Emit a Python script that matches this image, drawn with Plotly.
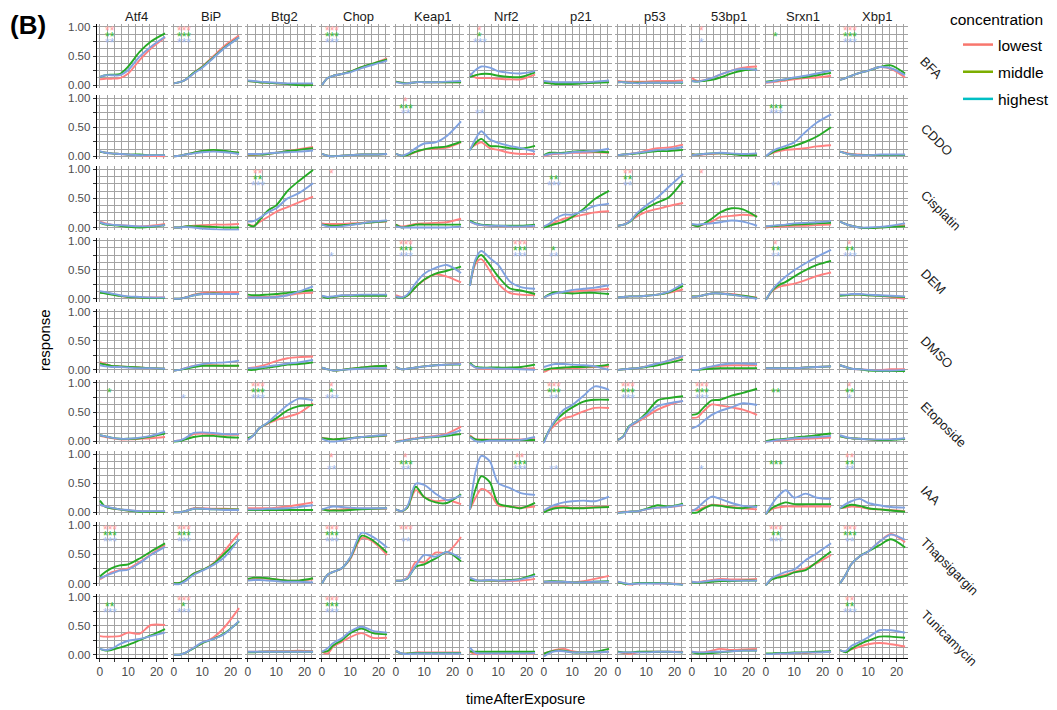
import plotly.graph_objects as go

# ---------------- data ----------------
T = [0, 2, 4, 7, 10, 14, 18, 23]
GENES = ["Atf4", "BiP", "Btg2", "Chop", "Keap1", "Nrf2", "p21", "p53", "53bp1", "Srxn1", "Xbp1"]
COMPOUNDS = ["BFA", "CDDO", "Cisplatin", "DEM", "DMSO", "Etoposide", "IAA", "Thapsigargin", "Tunicamycin"]
CONC = ["lowest", "middle", "highest"]

# each gene: (lowest, middle, highest) response at T
BFA = {
    "Atf4": ([0.1, 0.11, 0.11, 0.12, 0.2, 0.43, 0.63, 0.82], [0.14, 0.17, 0.18, 0.19, 0.32, 0.57, 0.75, 0.89], [0.14, 0.17, 0.17, 0.17, 0.26, 0.49, 0.66, 0.83]),
    "BiP": ([0.03, 0.05, 0.09, 0.21, 0.32, 0.5, 0.68, 0.85], [0.03, 0.05, 0.09, 0.21, 0.31, 0.48, 0.65, 0.82], [0.03, 0.05, 0.09, 0.2, 0.3, 0.47, 0.64, 0.82]),
    "Btg2": ([0.07, 0.06, 0.05, 0.04, 0.03, 0.02, 0.01, 0.01], [0.07, 0.06, 0.05, 0.04, 0.03, 0.02, 0.0, 0.0], [0.08, 0.07, 0.06, 0.05, 0.04, 0.03, 0.03, 0.03]),
    "Chop": ([0.0, 0.12, 0.16, 0.19, 0.23, 0.31, 0.37, 0.46], [0.0, 0.12, 0.16, 0.19, 0.23, 0.31, 0.37, 0.44], [0.0, 0.12, 0.16, 0.19, 0.22, 0.29, 0.35, 0.42]),
    "Keap1": ([0.06, 0.04, 0.03, 0.05, 0.05, 0.05, 0.05, 0.05], [0.06, 0.04, 0.03, 0.05, 0.05, 0.05, 0.05, 0.05], [0.05, 0.03, 0.03, 0.05, 0.05, 0.05, 0.06, 0.07]),
    "Nrf2": ([0.2, 0.13, 0.12, 0.12, 0.11, 0.1, 0.1, 0.18], [0.14, 0.17, 0.19, 0.19, 0.16, 0.14, 0.14, 0.22], [0.16, 0.26, 0.32, 0.3, 0.24, 0.21, 0.2, 0.24]),
    "p21": ([0.06, 0.05, 0.04, 0.04, 0.04, 0.05, 0.05, 0.06], [0.04, 0.03, 0.02, 0.02, 0.02, 0.03, 0.04, 0.05], [0.07, 0.06, 0.05, 0.05, 0.05, 0.05, 0.06, 0.08]),
    "p53": ([0.07, 0.06, 0.06, 0.06, 0.06, 0.07, 0.07, 0.08], [0.05, 0.05, 0.04, 0.04, 0.04, 0.04, 0.04, 0.04], [0.05, 0.05, 0.04, 0.03, 0.04, 0.04, 0.04, 0.05]),
    "53bp1": ([0.12, 0.07, 0.08, 0.12, 0.18, 0.25, 0.3, 0.32], [0.07, 0.06, 0.07, 0.09, 0.13, 0.2, 0.25, 0.27], [0.07, 0.06, 0.08, 0.12, 0.18, 0.25, 0.28, 0.26]),
    "Srxn1": ([0.04, 0.05, 0.06, 0.08, 0.1, 0.12, 0.13, 0.16], [0.06, 0.07, 0.08, 0.1, 0.12, 0.14, 0.17, 0.21], [0.05, 0.06, 0.08, 0.1, 0.13, 0.16, 0.2, 0.25]),
    "Xbp1": ([0.09, 0.12, 0.16, 0.21, 0.25, 0.31, 0.28, 0.13], [0.09, 0.12, 0.16, 0.21, 0.25, 0.31, 0.34, 0.2], [0.09, 0.12, 0.16, 0.21, 0.25, 0.31, 0.29, 0.17]),
}
CDDO = {
    "Atf4": ([0.08, 0.06, 0.05, 0.04, 0.03, 0.02, 0.01, 0.0], [0.08, 0.06, 0.05, 0.04, 0.03, 0.03, 0.02, 0.02], [0.09, 0.06, 0.05, 0.04, 0.03, 0.02, 0.02, 0.02]),
    "BiP": ([0.0, 0.01, 0.03, 0.06, 0.09, 0.1, 0.08, 0.06], [0.0, 0.01, 0.03, 0.06, 0.09, 0.11, 0.09, 0.06], [0.0, 0.01, 0.03, 0.05, 0.07, 0.08, 0.07, 0.04]),
    "Btg2": ([0.02, 0.02, 0.03, 0.04, 0.06, 0.09, 0.12, 0.16], [0.03, 0.03, 0.03, 0.04, 0.06, 0.09, 0.11, 0.14], [0.04, 0.04, 0.04, 0.05, 0.06, 0.07, 0.08, 0.1]),
    "Chop": ([0.04, 0.01, 0.0, 0.01, 0.02, 0.03, 0.03, 0.04], [0.04, 0.01, 0.0, 0.01, 0.02, 0.03, 0.03, 0.04], [0.04, 0.01, 0.0, 0.01, 0.02, 0.03, 0.03, 0.04]),
    "Keap1": ([0.04, 0.01, 0.02, 0.07, 0.12, 0.13, 0.15, 0.24], [0.04, 0.01, 0.02, 0.08, 0.12, 0.15, 0.17, 0.25], [0.04, 0.01, 0.04, 0.14, 0.22, 0.24, 0.35, 0.6]),
    "Nrf2": ([0.14, 0.2, 0.24, 0.14, 0.11, 0.06, 0.04, 0.04], [0.11, 0.23, 0.3, 0.18, 0.17, 0.14, 0.13, 0.18], [0.1, 0.3, 0.43, 0.29, 0.23, 0.18, 0.14, 0.08]),
    "p21": ([0.0, 0.03, 0.04, 0.05, 0.06, 0.06, 0.07, 0.06], [0.02, 0.06, 0.06, 0.06, 0.08, 0.09, 0.08, 0.07], [0.01, 0.04, 0.05, 0.05, 0.07, 0.08, 0.09, 0.13]),
    "p53": ([0.02, 0.03, 0.04, 0.06, 0.1, 0.14, 0.15, 0.2], [0.02, 0.03, 0.04, 0.05, 0.07, 0.09, 0.09, 0.11], [0.02, 0.03, 0.04, 0.06, 0.08, 0.11, 0.12, 0.16]),
    "53bp1": ([0.04, 0.02, 0.03, 0.04, 0.05, 0.04, 0.03, 0.02], [0.03, 0.03, 0.04, 0.05, 0.05, 0.04, 0.02, 0.02], [0.02, 0.03, 0.04, 0.05, 0.06, 0.05, 0.04, 0.05]),
    "Srxn1": ([0.0, 0.05, 0.08, 0.11, 0.12, 0.14, 0.17, 0.19], [0.0, 0.06, 0.1, 0.14, 0.18, 0.25, 0.34, 0.5], [0.0, 0.08, 0.13, 0.18, 0.24, 0.42, 0.58, 0.72]),
    "Xbp1": ([0.08, 0.06, 0.04, 0.03, 0.02, 0.02, 0.02, 0.02], [0.08, 0.05, 0.03, 0.02, 0.02, 0.02, 0.02, 0.02], [0.08, 0.05, 0.03, 0.02, 0.02, 0.03, 0.03, 0.03]),
}
CISPLATIN = {
    "Atf4": ([0.1, 0.07, 0.05, 0.04, 0.03, 0.02, 0.03, 0.06], [0.08, 0.05, 0.04, 0.03, 0.01, 0.0, 0.01, 0.04], [0.09, 0.06, 0.05, 0.04, 0.03, 0.02, 0.02, 0.04]),
    "BiP": ([0.0, 0.0, 0.02, 0.03, 0.04, 0.05, 0.05, 0.06], [0.0, 0.0, 0.02, 0.02, 0.02, 0.01, 0.0, 0.0], [0.0, 0.0, 0.01, 0.0, -0.02, -0.03, -0.04, -0.04]),
    "Btg2": ([0.06, 0.03, 0.09, 0.18, 0.27, 0.35, 0.43, 0.53], [0.05, 0.02, 0.12, 0.29, 0.38, 0.63, 0.8, 0.99], [0.1, 0.11, 0.16, 0.26, 0.33, 0.5, 0.59, 0.76]),
    "Chop": ([0.07, 0.06, 0.06, 0.06, 0.07, 0.08, 0.09, 0.1], [0.05, 0.04, 0.03, 0.04, 0.05, 0.07, 0.09, 0.11], [0.05, 0.02, 0.01, 0.02, 0.04, 0.07, 0.1, 0.12]),
    "Keap1": ([0.05, 0.02, 0.03, 0.06, 0.07, 0.08, 0.09, 0.15], [0.05, 0.0, 0.02, 0.05, 0.05, 0.05, 0.05, 0.05], [0.02, 0.0, 0.0, 0.0, 0.0, 0.0, 0.0, 0.02]),
    "Nrf2": ([0.1, 0.06, 0.04, 0.03, 0.02, 0.02, 0.02, 0.02], [0.12, 0.07, 0.05, 0.04, 0.03, 0.03, 0.03, 0.05], [0.1, 0.06, 0.04, 0.03, 0.03, 0.02, 0.02, 0.03]),
    "p21": ([0.02, 0.05, 0.09, 0.15, 0.18, 0.22, 0.26, 0.28], [0.0, 0.03, 0.06, 0.1, 0.18, 0.32, 0.49, 0.63], [0.02, 0.07, 0.15, 0.22, 0.22, 0.29, 0.37, 0.41]),
    "p53": ([0.03, 0.05, 0.1, 0.2, 0.27, 0.32, 0.37, 0.42], [0.03, 0.05, 0.09, 0.24, 0.33, 0.43, 0.52, 0.8], [0.03, 0.05, 0.1, 0.26, 0.38, 0.52, 0.7, 0.92]),
    "53bp1": ([0.05, 0.02, 0.05, 0.1, 0.18, 0.2, 0.22, 0.2], [0.05, 0.02, 0.06, 0.15, 0.26, 0.33, 0.31, 0.18], [0.06, 0.05, 0.06, 0.07, 0.09, 0.12, 0.1, 0.03]),
    "Srxn1": ([0.0, 0.01, 0.01, 0.02, 0.03, 0.03, 0.04, 0.05], [0.02, 0.02, 0.03, 0.04, 0.05, 0.06, 0.07, 0.08], [0.02, 0.03, 0.04, 0.05, 0.07, 0.08, 0.09, 0.11]),
    "Xbp1": ([0.1, 0.06, 0.03, 0.0, -0.01, 0.0, 0.02, 0.04], [0.1, 0.06, 0.03, 0.0, -0.01, 0.0, 0.01, 0.02], [0.1, 0.06, 0.03, 0.0, 0.0, 0.01, 0.03, 0.07]),
}
DEM = {
    "Atf4": ([0.12, 0.1, 0.08, 0.05, 0.03, 0.02, 0.02, 0.02], [0.1, 0.09, 0.07, 0.05, 0.03, 0.02, 0.01, 0.01], [0.13, 0.11, 0.09, 0.06, 0.04, 0.03, 0.02, 0.02]),
    "BiP": ([0.0, 0.0, 0.02, 0.07, 0.1, 0.11, 0.11, 0.11], [0.0, 0.0, 0.02, 0.06, 0.08, 0.09, 0.08, 0.08], [0.0, 0.0, 0.02, 0.06, 0.08, 0.08, 0.08, 0.08]),
    "Btg2": ([0.03, 0.03, 0.03, 0.03, 0.04, 0.06, 0.09, 0.1], [0.07, 0.06, 0.06, 0.07, 0.08, 0.1, 0.12, 0.15], [0.02, 0.02, 0.02, 0.02, 0.03, 0.06, 0.12, 0.21]),
    "Chop": ([0.05, 0.02, 0.03, 0.05, 0.06, 0.06, 0.06, 0.06], [0.04, 0.01, 0.03, 0.05, 0.05, 0.05, 0.05, 0.05], [0.05, 0.03, 0.04, 0.06, 0.06, 0.07, 0.07, 0.07]),
    "Keap1": ([0.06, 0.03, 0.05, 0.2, 0.32, 0.42, 0.38, 0.28], [0.03, 0.01, 0.05, 0.2, 0.33, 0.43, 0.48, 0.55], [0.04, 0.02, 0.07, 0.27, 0.43, 0.53, 0.58, 0.44]),
    "Nrf2": ([0.22, 0.6, 0.68, 0.48, 0.26, 0.1, 0.07, 0.06], [0.22, 0.65, 0.75, 0.58, 0.38, 0.18, 0.14, 0.08], [0.22, 0.68, 0.82, 0.7, 0.58, 0.3, 0.2, 0.17]),
    "p21": ([0.02, 0.07, 0.1, 0.11, 0.12, 0.14, 0.15, 0.17], [0.02, 0.08, 0.11, 0.1, 0.09, 0.1, 0.1, 0.08], [0.02, 0.06, 0.09, 0.12, 0.15, 0.17, 0.19, 0.23]),
    "p53": ([0.02, 0.03, 0.04, 0.04, 0.05, 0.07, 0.1, 0.16], [0.02, 0.03, 0.04, 0.04, 0.05, 0.07, 0.11, 0.22], [0.02, 0.03, 0.04, 0.04, 0.05, 0.07, 0.12, 0.26]),
    "53bp1": ([0.04, 0.04, 0.06, 0.09, 0.09, 0.08, 0.05, 0.02], [0.04, 0.04, 0.06, 0.09, 0.09, 0.07, 0.05, 0.01], [0.03, 0.04, 0.06, 0.09, 0.09, 0.07, 0.04, 0.0]),
    "Srxn1": ([-0.02, 0.12, 0.19, 0.23, 0.26, 0.32, 0.39, 0.45], [-0.02, 0.13, 0.22, 0.29, 0.38, 0.49, 0.58, 0.65], [-0.02, 0.14, 0.25, 0.38, 0.49, 0.61, 0.72, 0.84]),
    "Xbp1": ([0.07, 0.06, 0.07, 0.07, 0.06, 0.05, 0.03, 0.0], [0.05, 0.06, 0.07, 0.07, 0.06, 0.05, 0.04, 0.03], [0.07, 0.07, 0.08, 0.08, 0.07, 0.06, 0.05, 0.04]),
}
DMSO = {
    "Atf4": ([0.14, 0.1, 0.07, 0.06, 0.05, 0.04, 0.03, 0.02], [0.11, 0.09, 0.07, 0.06, 0.05, 0.04, 0.03, 0.02], [0.08, 0.06, 0.05, 0.05, 0.04, 0.03, 0.03, 0.02]),
    "BiP": ([-0.01, 0.0, 0.03, 0.07, 0.08, 0.08, 0.07, 0.07], [-0.01, 0.0, 0.02, 0.05, 0.07, 0.07, 0.07, 0.07], [-0.01, 0.0, 0.03, 0.07, 0.1, 0.12, 0.13, 0.16]),
    "Btg2": ([0.03, 0.04, 0.06, 0.1, 0.15, 0.2, 0.22, 0.23], [0.0, 0.0, 0.02, 0.04, 0.06, 0.09, 0.1, 0.13], [0.03, 0.03, 0.04, 0.06, 0.08, 0.11, 0.13, 0.17]),
    "Chop": ([0.04, 0.01, -0.01, 0.0, 0.02, 0.04, 0.06, 0.06], [0.04, 0.01, -0.01, 0.0, 0.02, 0.04, 0.06, 0.07], [0.04, 0.01, -0.01, 0.0, 0.01, 0.02, 0.03, 0.03]),
    "Keap1": ([0.05, 0.01, 0.02, 0.04, 0.06, 0.08, 0.09, 0.11], [0.05, 0.01, 0.02, 0.04, 0.06, 0.08, 0.09, 0.09], [0.05, 0.01, 0.02, 0.04, 0.06, 0.08, 0.09, 0.1]),
    "Nrf2": ([0.1, 0.04, 0.02, 0.02, 0.02, 0.02, 0.02, 0.03], [0.12, 0.05, 0.04, 0.04, 0.04, 0.04, 0.05, 0.09], [0.1, 0.04, 0.03, 0.03, 0.02, 0.02, 0.01, 0.0]),
    "p21": ([-0.04, 0.01, 0.02, 0.03, 0.03, 0.04, 0.05, 0.06], [0.0, 0.02, 0.03, 0.04, 0.05, 0.05, 0.06, 0.09], [0.05, 0.08, 0.1, 0.1, 0.09, 0.08, 0.06, 0.0]),
    "p53": ([0.0, 0.01, 0.02, 0.03, 0.06, 0.1, 0.16, 0.23], [0.0, 0.01, 0.02, 0.03, 0.05, 0.08, 0.12, 0.18], [0.0, 0.01, 0.02, 0.03, 0.06, 0.11, 0.16, 0.24]),
    "53bp1": ([0.0, 0.0, 0.02, 0.05, 0.07, 0.08, 0.08, 0.08], [0.0, 0.0, 0.01, 0.02, 0.03, 0.03, 0.03, 0.03], [0.0, 0.0, 0.03, 0.06, 0.09, 0.11, 0.11, 0.1]),
    "Srxn1": ([0.03, 0.03, 0.03, 0.03, 0.03, 0.04, 0.05, 0.06], [0.03, 0.03, 0.03, 0.03, 0.03, 0.04, 0.05, 0.06], [0.03, 0.03, 0.03, 0.03, 0.03, 0.04, 0.05, 0.06]),
    "Xbp1": ([0.08, 0.05, 0.02, 0.01, 0.0, 0.0, 0.01, 0.01], [0.08, 0.05, 0.02, 0.01, -0.01, -0.02, -0.02, -0.02], [0.08, 0.05, 0.02, 0.01, 0.0, -0.01, -0.01, 0.0]),
}
ETOPOSIDE = {
    "Atf4": ([0.09, 0.07, 0.05, 0.03, 0.03, 0.04, 0.05, 0.07], [0.1, 0.08, 0.06, 0.04, 0.04, 0.05, 0.08, 0.13], [0.1, 0.08, 0.06, 0.04, 0.04, 0.06, 0.09, 0.16]),
    "BiP": ([0.0, 0.01, 0.04, 0.12, 0.13, 0.12, 0.11, 0.11], [-0.01, 0.0, 0.03, 0.07, 0.09, 0.09, 0.07, 0.06], [0.0, 0.01, 0.05, 0.14, 0.15, 0.14, 0.12, 0.12]),
    "Btg2": ([0.03, 0.1, 0.22, 0.3, 0.36, 0.42, 0.48, 0.65], [0.05, 0.1, 0.22, 0.31, 0.39, 0.53, 0.6, 0.62], [0.02, 0.1, 0.22, 0.32, 0.45, 0.62, 0.73, 0.7]),
    "Chop": ([0.06, 0.04, 0.03, 0.04, 0.05, 0.07, 0.08, 0.09], [0.05, 0.04, 0.03, 0.04, 0.05, 0.07, 0.08, 0.1], [0.04, 0.0, -0.01, 0.01, 0.04, 0.07, 0.09, 0.11]),
    "Keap1": ([0.0, 0.01, 0.03, 0.05, 0.07, 0.09, 0.13, 0.25], [-0.01, 0.0, 0.02, 0.04, 0.06, 0.07, 0.09, 0.12], [-0.01, 0.0, 0.02, 0.04, 0.06, 0.08, 0.11, 0.19]),
    "Nrf2": ([0.1, 0.03, 0.03, 0.03, 0.03, 0.03, 0.03, 0.04], [0.08, 0.03, 0.02, 0.02, 0.02, 0.02, 0.02, 0.02], [0.07, 0.0, -0.01, 0.01, 0.01, 0.01, 0.02, 0.07]),
    "p21": ([0.0, 0.18, 0.28, 0.39, 0.43, 0.51, 0.57, 0.57], [0.0, 0.2, 0.34, 0.48, 0.58, 0.68, 0.71, 0.71], [-0.03, 0.2, 0.36, 0.54, 0.62, 0.78, 0.94, 0.88]),
    "p53": ([0.02, 0.08, 0.24, 0.33, 0.42, 0.54, 0.62, 0.69], [0.02, 0.09, 0.26, 0.35, 0.48, 0.7, 0.74, 0.77], [0.02, 0.08, 0.25, 0.35, 0.45, 0.6, 0.65, 0.69]),
    "53bp1": ([0.4, 0.41, 0.51, 0.63, 0.61, 0.58, 0.54, 0.45], [0.45, 0.47, 0.57, 0.7, 0.71, 0.78, 0.83, 0.9], [0.22, 0.26, 0.34, 0.45, 0.52, 0.58, 0.65, 0.62]),
    "Srxn1": ([-0.01, 0.0, 0.01, 0.02, 0.03, 0.04, 0.05, 0.06], [0.0, 0.02, 0.03, 0.04, 0.06, 0.08, 0.1, 0.13], [-0.01, 0.0, 0.02, 0.03, 0.05, 0.06, 0.07, 0.09]),
    "Xbp1": ([0.09, 0.06, 0.05, 0.04, 0.03, 0.02, 0.03, 0.04], [0.08, 0.06, 0.05, 0.04, 0.03, 0.02, 0.02, 0.04], [0.1, 0.07, 0.05, 0.04, 0.03, 0.03, 0.03, 0.05]),
}
IAA = {
    "Atf4": ([0.13, 0.1, 0.07, 0.05, 0.03, 0.02, 0.01, 0.01], [0.2, 0.09, 0.07, 0.05, 0.03, 0.01, 0.01, 0.01], [0.13, 0.1, 0.08, 0.05, 0.04, 0.02, 0.02, 0.02]),
    "BiP": ([0.0, 0.0, 0.02, 0.07, 0.07, 0.06, 0.06, 0.05], [0.0, 0.0, 0.02, 0.06, 0.06, 0.05, 0.05, 0.05], [0.0, 0.0, 0.02, 0.06, 0.06, 0.05, 0.04, 0.04]),
    "Btg2": ([0.07, 0.07, 0.07, 0.07, 0.08, 0.1, 0.13, 0.17], [0.04, 0.04, 0.04, 0.04, 0.04, 0.04, 0.04, 0.04], [0.05, 0.05, 0.05, 0.06, 0.06, 0.07, 0.09, 0.12]),
    "Chop": ([0.05, 0.04, 0.04, 0.05, 0.06, 0.06, 0.06, 0.06], [0.05, 0.03, 0.03, 0.03, 0.04, 0.05, 0.06, 0.07], [0.05, 0.08, 0.1, 0.09, 0.08, 0.07, 0.07, 0.07]),
    "Keap1": ([0.05, 0.02, 0.08, 0.38, 0.26, 0.19, 0.21, 0.14], [0.05, 0.02, 0.08, 0.44, 0.26, 0.17, 0.16, 0.31], [0.05, 0.02, 0.1, 0.49, 0.47, 0.32, 0.21, 0.29]),
    "Nrf2": ([0.05, 0.25, 0.4, 0.33, 0.12, 0.1, 0.08, 0.1], [0.05, 0.4, 0.62, 0.52, 0.15, 0.1, 0.07, 0.16], [0.05, 0.7, 0.97, 0.88, 0.5, 0.42, 0.33, 0.3]),
    "p21": ([0.02, 0.06, 0.09, 0.1, 0.08, 0.08, 0.09, 0.1], [0.0, 0.04, 0.07, 0.08, 0.07, 0.07, 0.08, 0.09], [0.03, 0.09, 0.13, 0.17, 0.19, 0.2, 0.19, 0.27]),
    "p53": ([0.0, 0.01, 0.01, 0.02, 0.05, 0.08, 0.09, 0.12], [-0.01, 0.0, 0.01, 0.02, 0.06, 0.12, 0.1, 0.15], [-0.01, 0.0, 0.01, 0.02, 0.05, 0.08, 0.09, 0.13]),
    "53bp1": ([0.04, 0.04, 0.08, 0.13, 0.12, 0.09, 0.07, 0.05], [-0.01, 0.0, 0.06, 0.12, 0.11, 0.08, 0.07, 0.11], [0.02, 0.08, 0.17, 0.27, 0.23, 0.16, 0.11, 0.09]),
    "Srxn1": ([-0.03, 0.05, 0.08, 0.1, 0.1, 0.1, 0.1, 0.1], [-0.03, 0.07, 0.12, 0.17, 0.14, 0.14, 0.14, 0.14], [-0.03, 0.13, 0.26, 0.38, 0.25, 0.32, 0.25, 0.23]),
    "Xbp1": ([0.07, 0.08, 0.1, 0.09, 0.06, 0.05, 0.04, 0.02], [0.07, 0.1, 0.13, 0.11, 0.07, 0.05, 0.03, 0.01], [0.07, 0.14, 0.19, 0.23, 0.16, 0.12, 0.09, 0.08]),
}
THAPSIGARGIN = {
    "Atf4": ([0.07, 0.13, 0.19, 0.23, 0.26, 0.37, 0.5, 0.66], [0.12, 0.2, 0.26, 0.31, 0.33, 0.43, 0.55, 0.69], [0.09, 0.13, 0.17, 0.22, 0.24, 0.35, 0.49, 0.63]),
    "BiP": ([0.01, 0.01, 0.06, 0.17, 0.23, 0.35, 0.57, 0.87], [0.01, 0.01, 0.06, 0.17, 0.23, 0.34, 0.52, 0.75], [-0.01, -0.01, 0.04, 0.15, 0.22, 0.32, 0.46, 0.76]),
    "Btg2": ([0.07, 0.08, 0.09, 0.08, 0.07, 0.05, 0.05, 0.07], [0.08, 0.1, 0.1, 0.09, 0.07, 0.05, 0.05, 0.09], [0.05, 0.06, 0.06, 0.05, 0.04, 0.03, 0.03, 0.02]),
    "Chop": ([0.0, 0.15, 0.2, 0.26, 0.42, 0.78, 0.72, 0.49], [0.0, 0.15, 0.2, 0.26, 0.44, 0.82, 0.74, 0.53], [0.0, 0.15, 0.2, 0.26, 0.45, 0.87, 0.8, 0.62]),
    "Keap1": ([0.05, 0.05, 0.1, 0.37, 0.36, 0.53, 0.53, 0.8], [0.05, 0.05, 0.08, 0.29, 0.33, 0.43, 0.54, 0.38], [0.05, 0.05, 0.09, 0.31, 0.49, 0.46, 0.54, 0.43]),
    "Nrf2": ([0.08, 0.05, 0.05, 0.05, 0.04, 0.04, 0.05, 0.08], [0.06, 0.05, 0.05, 0.05, 0.05, 0.06, 0.08, 0.16], [0.1, 0.06, 0.05, 0.06, 0.05, 0.05, 0.07, 0.13]),
    "p21": ([0.03, 0.03, 0.03, 0.03, 0.02, 0.04, 0.08, 0.13], [0.03, 0.04, 0.04, 0.03, 0.02, 0.02, 0.03, 0.04], [0.03, 0.03, 0.03, 0.03, 0.02, 0.02, 0.03, 0.03]),
    "p53": ([0.03, 0.0, -0.02, 0.0, 0.01, 0.0, 0.0, -0.01], [0.02, 0.0, -0.01, 0.01, 0.01, 0.01, 0.0, -0.02], [0.03, 0.01, -0.01, 0.0, 0.0, 0.0, 0.0, -0.02]),
    "53bp1": ([0.03, 0.02, 0.04, 0.06, 0.08, 0.07, 0.07, 0.08], [0.02, 0.01, 0.02, 0.03, 0.04, 0.04, 0.05, 0.05], [0.03, 0.02, 0.03, 0.05, 0.06, 0.05, 0.05, 0.05]),
    "Srxn1": ([-0.03, 0.07, 0.11, 0.15, 0.2, 0.26, 0.35, 0.49], [-0.03, 0.07, 0.1, 0.13, 0.19, 0.23, 0.37, 0.55], [-0.03, 0.09, 0.14, 0.2, 0.24, 0.4, 0.52, 0.69]),
    "Xbp1": ([0.0, 0.15, 0.33, 0.47, 0.55, 0.72, 0.85, 0.71], [0.0, 0.15, 0.33, 0.47, 0.55, 0.66, 0.76, 0.62], [0.0, 0.15, 0.33, 0.47, 0.55, 0.72, 0.84, 0.75]),
}
TUNICAMYCIN = {
    "Atf4": ([0.32, 0.31, 0.31, 0.32, 0.38, 0.36, 0.51, 0.51], [0.1, 0.07, 0.08, 0.12, 0.17, 0.25, 0.33, 0.44], [0.1, 0.08, 0.1, 0.18, 0.24, 0.27, 0.32, 0.38]),
    "BiP": ([0.0, 0.0, 0.03, 0.12, 0.2, 0.3, 0.48, 0.8], [0.0, 0.0, 0.03, 0.11, 0.2, 0.27, 0.37, 0.57], [0.0, 0.0, 0.03, 0.12, 0.21, 0.27, 0.36, 0.58]),
    "Btg2": ([0.05, 0.05, 0.05, 0.06, 0.06, 0.06, 0.07, 0.06], [0.04, 0.04, 0.05, 0.05, 0.05, 0.05, 0.05, 0.05], [0.05, 0.05, 0.05, 0.05, 0.05, 0.05, 0.05, 0.05]),
    "Chop": ([0.05, 0.02, 0.14, 0.22, 0.3, 0.37, 0.29, 0.29], [0.05, 0.06, 0.16, 0.25, 0.37, 0.45, 0.37, 0.35], [0.05, 0.11, 0.2, 0.28, 0.4, 0.48, 0.41, 0.38]),
    "Keap1": ([0.06, 0.02, 0.02, 0.04, 0.04, 0.04, 0.04, 0.04], [0.06, 0.02, 0.02, 0.03, 0.03, 0.03, 0.03, 0.03], [0.07, 0.02, 0.01, 0.02, 0.02, 0.02, 0.02, 0.02]),
    "Nrf2": ([0.05, 0.01, 0.01, 0.01, 0.01, 0.01, 0.01, 0.02], [0.06, 0.05, 0.05, 0.05, 0.05, 0.05, 0.05, 0.05], [0.12, 0.03, 0.02, 0.02, 0.02, 0.02, 0.02, 0.03]),
    "p21": ([0.02, 0.05, 0.08, 0.1, 0.06, 0.04, 0.04, 0.05], [0.02, 0.05, 0.07, 0.07, 0.04, 0.04, 0.05, 0.1], [-0.03, 0.03, 0.06, 0.06, 0.04, 0.04, 0.04, 0.05]),
    "p53": ([0.05, 0.03, 0.01, 0.04, 0.05, 0.05, 0.05, 0.05], [0.05, 0.04, 0.04, 0.05, 0.05, 0.05, 0.05, 0.04], [0.04, 0.04, 0.04, 0.04, 0.04, 0.05, 0.05, 0.04]),
    "53bp1": ([0.05, 0.04, 0.04, 0.07, 0.1, 0.08, 0.09, 0.1], [0.04, 0.02, 0.02, 0.03, 0.04, 0.06, 0.07, 0.07], [0.05, 0.04, 0.04, 0.05, 0.05, 0.06, 0.07, 0.07]),
    "Srxn1": ([0.01, 0.01, 0.02, 0.02, 0.03, 0.03, 0.04, 0.05], [0.02, 0.02, 0.03, 0.03, 0.04, 0.04, 0.05, 0.06], [0.01, 0.01, 0.02, 0.02, 0.03, 0.04, 0.04, 0.05]),
    "Xbp1": ([0.08, 0.05, 0.09, 0.14, 0.18, 0.2, 0.18, 0.14], [0.08, 0.04, 0.1, 0.18, 0.24, 0.31, 0.31, 0.29], [0.08, 0.06, 0.15, 0.22, 0.3, 0.42, 0.42, 0.38]),
}

# significance stars (lowest, middle, highest) per gene; missing = none
STARS_BFA = {"Atf4": (2, 2, 2), "BiP": (3, 3, 3), "Chop": (3, 3, 3), "Nrf2": (1, 1, 3), "53bp1": (1, 0, 1), "Srxn1": (0, 1, 0), "Xbp1": (3, 3, 3)}
STARS_CDDO = {"Keap1": (1, 3, 2), "Nrf2": (0, 0, 2), "Srxn1": (0, 3, 3)}
STARS_CISPLATIN = {"Btg2": (2, 2, 3), "Chop": (1, 0, 0), "p21": (0, 2, 3), "p53": (2, 2, 2), "53bp1": (1, 0, 0), "Srxn1": (0, 0, 2)}
STARS_DEM = {"Chop": (0, 0, 1), "Keap1": (3, 3, 3), "Nrf2": (3, 3, 3), "p21": (0, 1, 2), "Srxn1": (1, 2, 2), "Xbp1": (1, 2, 3)}
STARS_DMSO = {}
STARS_ETOPOSIDE = {"Atf4": (0, 1, 0), "BiP": (0, 0, 1), "Btg2": (3, 3, 3), "Chop": (1, 1, 3), "p21": (3, 3, 2), "p53": (3, 3, 3), "53bp1": (3, 3, 3), "Srxn1": (0, 2, 0), "Xbp1": (1, 2, 1)}
STARS_IAA = {"Chop": (1, 0, 2), "Keap1": (1, 3, 2), "Nrf2": (2, 3, 3), "p21": (0, 0, 2), "53bp1": (0, 0, 1), "Srxn1": (0, 3, 0), "Xbp1": (2, 2, 2)}
STARS_THAPSIGARGIN = {"Atf4": (3, 3, 3), "BiP": (3, 3, 3), "Chop": (3, 3, 3), "Keap1": (3, 0, 2), "Srxn1": (3, 2, 3), "Xbp1": (3, 3, 2)}
STARS_TUNICAMYCIN = {"Atf4": (0, 2, 3), "BiP": (3, 1, 3), "Chop": (3, 3, 3), "Xbp1": (2, 2, 3)}

RESPONSE = {"BFA": BFA, "CDDO": CDDO, "Cisplatin": CISPLATIN, "DEM": DEM, "DMSO": DMSO,
            "Etoposide": ETOPOSIDE, "IAA": IAA, "Thapsigargin": THAPSIGARGIN, "Tunicamycin": TUNICAMYCIN}
STARS = {"BFA": STARS_BFA, "CDDO": STARS_CDDO, "Cisplatin": STARS_CISPLATIN, "DEM": STARS_DEM, "DMSO": STARS_DMSO,
         "Etoposide": STARS_ETOPOSIDE, "IAA": STARS_IAA, "Thapsigargin": STARS_THAPSIGARGIN, "Tunicamycin": STARS_TUNICAMYCIN}
STARS_ON_RIGHT = {("DEM", "Nrf2"), ("IAA", "Nrf2")}

# ---------------- style / geometry ----------------
LINE_COLORS = ["#FF8080", "#25AA25", "#80A2E0"]
STAR_COLORS = ["#FF9E9E", "#33BB33", "#9EB6EA"]
LEGEND_COLORS = ["#F8766D", "#7CAE00", "#00BFC4"]
GRID = "#A3A3A3"
FONT = "Liberation Sans, Arial, sans-serif"

PAGE_OFF = 8                      # default page margin around the plot div
W, H = 1057 - PAGE_OFF, 710 - PAGE_OFF
PLOT_L, PLOT_T, PW, PH = 96, 24, 813, 634          # plot area in screenshot pixels
ML, MT = PLOT_L - PAGE_OFF, PLOT_T - PAGE_OFF
MR, MB = W - ML - PW, H - MT - PH
COL0, COLPITCH, COLW = 96.7, 74.0, 71.6
ROW0, ROWPITCH, ROWH = 24.0, 71.2, 64.0
XR = [-1.15, 24.15]
YR = [-0.05, 1.05]
STAR_Y = [0.925, 0.82, 0.72]


def px2x(px):
    return (px - PLOT_L) / PW


def py2y(py):
    return 1 - (py - PLOT_T) / PH


fig = go.Figure()
layout = {}
annotations = []
ncol = len(GENES)

for r, comp in enumerate(COMPOUNDS):
    for c, gene in enumerate(GENES):
        k = r * ncol + c + 1
        sx = "" if k == 1 else str(k)
        xl, yl = "x" + sx, "y" + sx
        left = COL0 + COLPITCH * c
        top = ROW0 + ROWPITCH * r
        bottom_row = r == len(COMPOUNDS) - 1
        left_col = c == 0
        layout["xaxis" + sx] = dict(
            domain=[px2x(left), px2x(left + COLW)], range=XR, anchor=yl,
            tickmode="array", tickvals=[0, 5, 10, 15, 20], ticktext=["0", "", "10", "", "20"],
            showticklabels=bottom_row, ticks="outside" if bottom_row else "", ticklen=3,
            tickcolor="#333333", tickwidth=1,
            showline=bottom_row, linecolor="#000000", linewidth=1,
            showgrid=True, gridcolor=GRID, gridwidth=1, zeroline=False,
            minor=dict(tick0=0, dtick=2.5, showgrid=True, gridcolor=GRID, gridwidth=1, ticks=""),
            tickfont=dict(size=12, color="#4D4D4D", family=FONT), fixedrange=True,
        )
        layout["yaxis" + sx] = dict(
            domain=[py2y(top + ROWH), py2y(top)], range=YR, anchor=xl,
            tickmode="array", tickvals=[0, 0.25, 0.5, 0.75, 1.0], ticktext=["0.00", "", "0.50", "", "1.00"],
            showticklabels=left_col, ticks="outside" if left_col else "", ticklen=3,
            tickcolor="#333333", tickwidth=1,
            showline=left_col, linecolor="#000000", linewidth=1,
            showgrid=True, gridcolor=GRID, gridwidth=1, zeroline=False,
            minor=dict(tick0=0, dtick=0.125, showgrid=True, gridcolor=GRID, gridwidth=1, ticks=""),
            tickfont=dict(size=11.5, color="#4D4D4D", family=FONT), fixedrange=True,
        )
        series = RESPONSE[comp][gene]
        for i, vals in enumerate(series):
            fig.add_trace(go.Scatter(
                x=T, y=vals, mode="lines", xaxis=xl, yaxis=yl,
                line=dict(color=LINE_COLORS[i], width=1.9, shape="spline", smoothing=0.8),
                showlegend=False, hoverinfo="skip", name=CONC[i],
            ))
        stars = STARS[comp].get(gene)
        if stars:
            sxpos = 17.6 if (comp, gene) in STARS_ON_RIGHT else 3.5
            for i, n in enumerate(stars):
                if n:
                    annotations.append(dict(
                        x=sxpos, y=STAR_Y[i], xref=xl, yref=yl,
                        text="*" * n, showarrow=False, xanchor="center", yanchor="middle",
                        font=dict(size=12, color=STAR_COLORS[i], family=FONT),
                    ))

# legend entries
for i, name in enumerate(CONC):
    fig.add_trace(go.Scatter(
        x=[None], y=[None], mode="lines", name=name, legendgroup=name,
        line=dict(color=LEGEND_COLORS[i], width=2.5), xaxis="x", yaxis="y",
    ))

# column strips
for c, gene in enumerate(GENES):
    cx = COL0 + COLPITCH * c + COLW / 2 + 4
    annotations.append(dict(x=px2x(cx), y=py2y(16.5), xref="paper", yref="paper", text=gene,
                            showarrow=False, xanchor="center", yanchor="middle",
                            font=dict(size=13, color="#1A1A1A", family=FONT)))
# row strips
for r, comp in enumerate(COMPOUNDS):
    cy = ROW0 + ROWPITCH * r + ROWH / 2 + 12
    annotations.append(dict(x=px2x(915), y=py2y(cy), xref="paper", yref="paper", text=comp,
                            showarrow=False, xanchor="left", yanchor="middle", textangle=45,
                            font=dict(size=13, color="#1A1A1A", family=FONT)))

annotations.append(dict(x=px2x(44), y=py2y(340), xref="paper", yref="paper", text="response",
                        showarrow=False, textangle=-90, xanchor="center", yanchor="middle",
                        font=dict(size=15, color="#000000", family=FONT)))
annotations.append(dict(x=px2x(525), y=py2y(699), xref="paper", yref="paper", text="timeAfterExposure",
                        showarrow=False, xanchor="center", yanchor="middle",
                        font=dict(size=14.5, color="#000000", family=FONT)))
annotations.append(dict(x=px2x(8), y=py2y(25), xref="paper", yref="paper", text="<b>(B)</b>",
                        showarrow=False, xanchor="left", yanchor="middle",
                        font=dict(size=26, color="#000000", family=FONT)))
annotations.append(dict(x=px2x(948), y=py2y(19.5), xref="paper", yref="paper", text="concentration",
                        showarrow=False, xanchor="left", yanchor="middle",
                        font=dict(size=15.5, color="#000000", family=FONT)))

fig.update_layout(
    width=W, height=H, margin=dict(l=ML, r=MR, t=MT, b=MB, autoexpand=False),
    paper_bgcolor="white", plot_bgcolor="white",
    font=dict(family=FONT, color="#000000"),
    showlegend=True,
    legend=dict(
        x=px2x(958), y=py2y(28), xanchor="left", yanchor="top", xref="paper", yref="paper",
        font=dict(size=15.5, color="#000000", family=FONT),
        tracegroupgap=4, itemwidth=30, bgcolor="rgba(0,0,0,0)",
    ),
    annotations=annotations,
    **layout,
)

fig.write_html("out.html")
